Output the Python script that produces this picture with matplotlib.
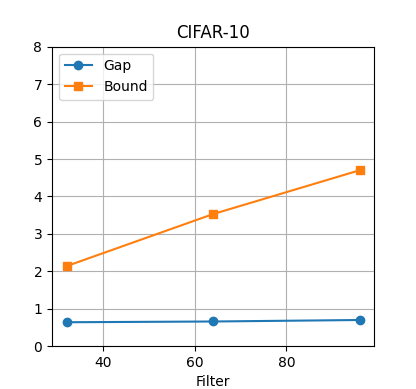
import matplotlib
matplotlib.use("Agg")
import matplotlib.pyplot as plt

filters = [32, 64, 96]
gap = [0.64, 0.66, 0.70]
bound = [2.14, 3.53, 4.70]

fig, ax = plt.subplots(figsize=(4.16, 3.89), dpi=100)
ax.plot(filters, gap, marker='o', label='Gap')
ax.plot(filters, bound, marker='s', label='Bound')
ax.set_ylim(0, 8)
ax.set_xlabel('Filter')
ax.set_title('CIFAR-10')
ax.grid(True)
ax.legend(loc='upper left')
fig.savefig('out.png', dpi=100)
